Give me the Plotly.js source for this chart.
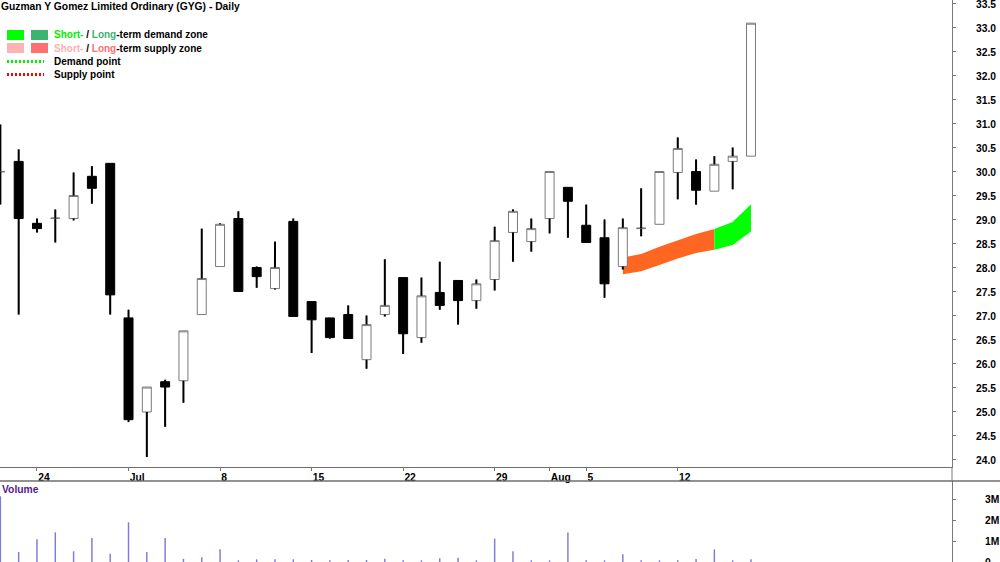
<!DOCTYPE html>
<html>
<head>
<meta charset="utf-8">
<script src="https://cdn.plot.ly/plotly-3.0.1.min.js"></script>
<style>
html,body{margin:0;padding:0;background:#ffffff;}
#chart{width:1000px;height:562px;}
</style>
</head>
<body>
<div id="chart"></div>
<script>
// ---------------- data ----------------
const dates = ['2024-06-20','2024-06-21','2024-06-24','2024-06-25','2024-06-26','2024-06-27','2024-06-28',
  '2024-07-01','2024-07-02','2024-07-03','2024-07-04','2024-07-05',
  '2024-07-08','2024-07-09','2024-07-10','2024-07-11','2024-07-12',
  '2024-07-15','2024-07-16','2024-07-17','2024-07-18','2024-07-19',
  '2024-07-22','2024-07-23','2024-07-24','2024-07-25','2024-07-26',
  '2024-07-29','2024-07-30','2024-07-31','2024-08-01','2024-08-02',
  '2024-08-05','2024-08-06','2024-08-07','2024-08-08','2024-08-09',
  '2024-08-12','2024-08-13','2024-08-14','2024-08-15','2024-08-16'];

const open  = [30.00,30.22,28.93,29.03,29.03,29.91,30.18,
  26.96,25.00,25.63,25.65,27.03,
  28.03,29.03,28.01,27.57,28.97,
  27.30,26.96,27.03,26.09,27.03,
  27.80,26.55,27.49,27.74,27.32,
  27.76,28.74,28.55,29.03,29.68,
  28.89,28.63,28.03,28.82,28.91,
  29.99,30.01,29.60,30.22,30.33];
const high  = [30.99,30.47,29.03,29.22,29.99,30.12,30.18,
  27.13,25.52,25.67,26.69,28.82,
  28.93,29.18,28.03,28.55,29.03,
  27.30,26.96,27.22,27.01,28.18,
  27.80,27.80,28.13,27.74,27.76,
  28.86,29.22,29.03,30.01,29.68,
  29.32,29.01,29.03,29.66,30.01,
  30.72,30.26,30.33,30.51,33.10];
const low   = [29.32,27.03,28.74,28.53,28.99,29.34,27.03,
  24.79,24.06,24.69,25.19,27.03,
  28.03,27.51,27.59,27.55,26.99,
  26.23,26.53,26.53,25.90,26.99,
  26.21,26.44,27.13,26.82,27.15,
  27.53,28.13,28.34,28.72,28.63,
  28.53,27.38,27.97,28.66,28.91,
  29.43,29.32,29.60,29.64,30.33];
const close = [30.01,29.03,28.82,29.04,29.51,29.66,27.44,
  24.84,25.52,25.52,26.69,27.78,
  28.91,27.51,27.82,28.01,26.99,
  26.92,26.55,26.53,26.82,27.22,
  26.63,27.42,27.22,27.32,27.67,
  28.57,29.18,28.82,30.01,29.39,
  28.53,27.67,28.84,28.83,30.01,
  30.49,29.62,30.16,30.33,33.10];
const volume = [3170000,480000,1100000,1430000,520000,1160000,400000,
  1920000,480000,1160000,150000,230000,
  610000,80000,130000,130000,130000,
  100000,80000,100000,100000,160000,
  80000,80000,180000,210000,80000,
  1130000,520000,80000,80000,1430000,
  80000,80000,370000,80000,80000,
  80000,150000,610000,80000,130000];

// supply / demand zone bands
const supplyDates = ['2024-08-07','2024-08-08','2024-08-09','2024-08-12','2024-08-13','2024-08-14'];
const supplyUpper = [28.22,28.29,28.44,28.58,28.71,28.81];
const supplyLower = [27.87,27.93,28.06,28.20,28.31,28.38];
const demandDates = ['2024-08-14','2024-08-15','2024-08-16'];
const demandUpper = [28.81,28.96,29.33];
const demandLower = [28.38,28.48,28.76];

// axis tick labels
const tickDates  = ['2024-06-24','2024-07-01','2024-07-08','2024-07-15','2024-07-22','2024-07-29','2024-08-01','2024-08-05','2024-08-12'];
const tickLabels = ['24','Jul','8','15','22','29','Aug','5','12'];
const volTickVals = [0,1000000,2000000,3000000];
const volTickText = ['0','1M','2M','3M'];

// ---------------- layout helpers ----------------
const W = 1000, H = 562, MR = 48, PW = W - MR;
const px = v => v / PW;
const py = v => 1 - v / H;
const FONT = 'Liberation Sans, Arial, sans-serif';
const FS = 10.3;
const XRANGE = [-0.02, 51.98];

// wick segments outside the bodies
const wickX = [], wickY = [];
for (let i = 0; i < dates.length; i++) {
  const top = Math.max(open[i], close[i]);
  const bot = Math.min(open[i], close[i]);
  wickX.push(dates[i], dates[i], null, dates[i], dates[i], null);
  wickY.push(high[i], top, null, bot, low[i], null);
}

const band = (d, up, lo) => ({
  x: d.concat(d.slice().reverse()),
  y: up.concat(lo.slice().reverse())
});
const sb = band(supplyDates, supplyUpper, supplyLower);
const db = band(demandDates, demandUpper, demandLower);

const traces = [
  {type:'scatter', mode:'lines', x:sb.x, y:sb.y, fill:'toself', fillcolor:'#ff6622',
   line:{width:0, color:'#ff6622'}, xaxis:'x', yaxis:'y', hoverinfo:'skip', showlegend:false},
  {type:'scatter', mode:'lines', x:db.x, y:db.y, fill:'toself', fillcolor:'#00ff00',
   line:{width:0, color:'#00ff00'}, xaxis:'x', yaxis:'y', hoverinfo:'skip', showlegend:false},
  {type:'candlestick', x:dates, open:open, high:high, low:low, close:close,
   xaxis:'x2', yaxis:'y', showlegend:false, whiskerwidth:0,
   increasing:{fillcolor:'#ffffff', line:{color:'#7a7a7a', width:1}},
   decreasing:{fillcolor:'#000000', line:{color:'#000000', width:1}}},
  {type:'scatter', mode:'lines', x:wickX, y:wickY, connectgaps:false,
   line:{color:'#000000', width:2}, xaxis:'x2', yaxis:'y', hoverinfo:'skip', showlegend:false},
  {type:'bar', x:dates, y:volume, width:0.08, marker:{color:'#7d7dd8', line:{width:0}},
   xaxis:'x3', yaxis:'y2', showlegend:false}
];

const catAxis = {type:'category', categoryorder:'array', categoryarray:dates, range:XRANGE,
  showgrid:false, zeroline:false, rangeslider:{visible:false}, fixedrange:true};

const tickFont = {family:FONT, size:FS, color:'#000000', weight:'bold'};

const layout = {
  width:W, height:H,
  margin:{l:0, r:MR, t:0, b:0},
  paper_bgcolor:'#ffffff', plot_bgcolor:'#ffffff',
  showlegend:false,
  boxgap:0.3,
  title:{text:'Guzman Y Gomez Limited Ordinary (GYG) - Daily', xref:'container', yref:'container',
    x:0, xanchor:'left', y:py(6), yanchor:'middle', pad:{l:1,r:0,t:0,b:0},
    font:{family:FONT, size:FS, color:'#000000', weight:'bold'}},
  xaxis: Object.assign({}, catAxis, {domain:[0,1], anchor:'y', showline:true, linecolor:'#6e6e6e', linewidth:1.5,
    ticks:'outside', ticklen:3, tickcolor:'#777777', tickvals:tickDates, ticktext:tickLabels,
    ticklabelposition:'outside right', tickfont:tickFont}),
  xaxis2: Object.assign({}, catAxis, {overlaying:'x', anchor:'y', visible:false}),
  xaxis3: Object.assign({}, catAxis, {domain:[0,1], anchor:'y2', visible:false}),
  yaxis: {domain:[py(466.7),1], range:[23.86,33.583], side:'right', anchor:'x',
    showline:true, linecolor:'#7a7a7a', linewidth:1, ticks:'outside', ticklen:3, tickcolor:'#777777',
    tick0:24, dtick:0.5, tickformat:'.1f', showgrid:false, zeroline:false, fixedrange:true,
    ticklabelstandoff:18, ticklabeloverflow:'allow', tickfont:tickFont},
  yaxis2: {domain:[0,py(481)], range:[0,3910000], side:'right', anchor:'x3',
    showline:true, linecolor:'#7a7a7a', linewidth:1, ticks:'outside', ticklen:3, tickcolor:'#777777',
    tickvals:volTickVals, ticktext:volTickText, showgrid:false, zeroline:false, fixedrange:true,
    ticklabelstandoff:27, ticklabeloverflow:'allow', tickfont:tickFont},
  shapes:[
    // panel separators
    {type:'line', xref:'paper', yref:'paper', x0:0, x1:W/PW, y0:py(481), y1:py(481), line:{color:'#6e6e6e', width:1.5}},
    {type:'line', xref:'paper', yref:'paper', x0:1, x1:1, y0:py(481), y1:py(466.7), line:{color:'#7a7a7a', width:1}},
    // legend swatches
    {type:'rect', xref:'paper', yref:'paper', x0:px(7), x1:px(24), y0:py(40), y1:py(30), fillcolor:'#00ff00', line:{width:0}},
    {type:'rect', xref:'paper', yref:'paper', x0:px(31), x1:px(48), y0:py(40), y1:py(30), fillcolor:'#3cb371', line:{width:0}},
    {type:'rect', xref:'paper', yref:'paper', x0:px(7), x1:px(24), y0:py(53), y1:py(43), fillcolor:'#ffb4b4', line:{width:0}},
    {type:'rect', xref:'paper', yref:'paper', x0:px(31), x1:px(48), y0:py(53), y1:py(43), fillcolor:'#ff7070', line:{width:0}},
    {type:'line', xref:'paper', yref:'paper', x0:px(7), x1:px(44), y0:py(61.5), y1:py(61.5), line:{color:'#00ee00', width:3, dash:'2px,2px'}},
    {type:'line', xref:'paper', yref:'paper', x0:px(7), x1:px(44), y0:py(74.5), y1:py(74.5), line:{color:'#ff0000', width:3, dash:'2px,2px'}}
  ],
  annotations:[
    {xref:'paper', yref:'paper', x:px(52), y:py(35), xanchor:'left', yanchor:'middle', showarrow:false,
     text:"<span style='color:#00ee00'>Short-</span> / <span style='color:#3cb371'>Long</span>-term demand zone",
     font:{family:FONT, size:10, color:'#000000', weight:'bold'}},
    {xref:'paper', yref:'paper', x:px(52), y:py(48.5), xanchor:'left', yanchor:'middle', showarrow:false,
     text:"<span style='color:#ffb0b0'>Short-</span> / <span style='color:#ff7070'>Long</span>-term supply zone",
     font:{family:FONT, size:10, color:'#000000', weight:'bold'}},
    {xref:'paper', yref:'paper', x:px(52), y:py(62), xanchor:'left', yanchor:'middle', showarrow:false,
     text:'Demand point', font:{family:FONT, size:10, color:'#000000', weight:'bold'}},
    {xref:'paper', yref:'paper', x:px(52), y:py(75), xanchor:'left', yanchor:'middle', showarrow:false,
     text:'Supply point', font:{family:FONT, size:10, color:'#000000', weight:'bold'}},
    {xref:'paper', yref:'paper', x:0, y:py(489), xanchor:'left', yanchor:'middle', showarrow:false,
     text:'Volume', font:{family:FONT, size:FS, color:'#551a8b', weight:'bold'}}
  ]
};

Plotly.newPlot('chart', traces, layout, {displayModeBar:false, staticPlot:true});
</script>
</body>
</html>
